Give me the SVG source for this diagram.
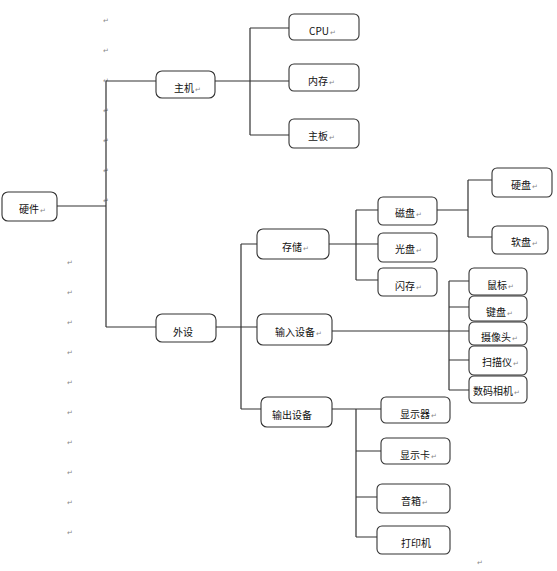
<svg xmlns="http://www.w3.org/2000/svg" width="557" height="571" viewBox="0 0 557 571">
<style>
.box{fill:#fff;stroke:#333;stroke-width:1.1}
.lbl{font-family:"Noto Sans CJK SC","Liberation Sans",sans-serif;font-size:10px;fill:#111}
.pm{font-family:"DejaVu Sans",sans-serif;font-size:7px;fill:#888}
.ln{fill:none;stroke:#333;stroke-width:1.2}
</style>
<rect width="557" height="571" fill="#fff"/>
<g id="marks" class="pm">
<text x="103" y="23">↵</text><text x="103" y="53">↵</text><text x="103" y="83">↵</text><text x="103" y="113">↵</text><text x="103" y="143">↵</text><text x="103" y="173">↵</text><text x="103" y="203">↵</text>
<text x="67" y="265">↵</text><text x="67" y="295">↵</text><text x="67" y="325">↵</text><text x="67" y="355">↵</text><text x="67" y="385">↵</text><text x="67" y="415">↵</text><text x="67" y="445">↵</text><text x="67" y="475">↵</text><text x="67" y="505">↵</text><text x="67" y="535">↵</text>
<text x="477" y="565">↵</text>
</g>
<g id="connectors" class="ln">
<path d="M57,206H106M106,81V327M106,81H156M106,327H156"/>
<path d="M215,81H289M250,28V135M250,28H289M250,135H289"/>
<path d="M216,327H257M241,244V409M241,244H257M241,409H261"/>
<path d="M329,244H378M356,210V280M356,210H378M356,280H378"/>
<path d="M437,210H468M468,180V237M468,180H492M468,237H492"/>
<path d="M332,331H469M449,281V390M449,281H469M449,307H469M449,360H469M449,390H469"/>
<path d="M332,409H381M356,409V537M356,451H381M356,497H377M356,537H377"/>
</g>
<g id="n-hardware"><rect class="box" x="2" y="192" width="55" height="29" rx="6"/><text class="lbl" x="19" y="213">硬件<tspan class="pm" dx="1">↵</tspan></text></g>
<g id="n-host"><rect class="box" x="156" y="71" width="59" height="27" rx="6"/><text class="lbl" x="174" y="92">主机<tspan class="pm" dx="1">↵</tspan></text></g>
<g id="n-cpu"><rect class="box" x="289" y="14" width="70" height="26" rx="5"/><text class="lbl" x="309" y="35" font-family="Liberation Sans">CPU<tspan class="pm" dx="1">↵</tspan></text></g>
<g id="n-mem"><rect class="box" x="289" y="64" width="70" height="27" rx="5"/><text class="lbl" x="308" y="85">内存<tspan class="pm" dx="1">↵</tspan></text></g>
<g id="n-board"><rect class="box" x="289" y="119" width="70" height="29" rx="5"/><text class="lbl" x="308" y="140">主板<tspan class="pm" dx="1">↵</tspan></text></g>
<g id="n-periph"><rect class="box" x="156" y="314" width="60" height="28" rx="6"/><text class="lbl" x="173" y="336">外设</text></g>
<g id="n-storage"><rect class="box" x="257" y="229" width="72" height="30" rx="6"/><text class="lbl" x="282" y="251">存储<tspan class="pm" dx="1">↵</tspan></text></g>
<g id="n-disk"><rect class="box" x="378" y="197" width="59" height="28" rx="5"/><text class="lbl" x="395" y="217">磁盘<tspan class="pm" dx="1">↵</tspan></text></g>
<g id="n-cd"><rect class="box" x="378" y="233" width="59" height="29" rx="5"/><text class="lbl" x="395" y="253">光盘<tspan class="pm" dx="1">↵</tspan></text></g>
<g id="n-flash"><rect class="box" x="378" y="268" width="59" height="28" rx="5"/><text class="lbl" x="395" y="290">闪存<tspan class="pm" dx="1">↵</tspan></text></g>
<g id="n-hdd"><rect class="box" x="492" y="168" width="60" height="29" rx="5"/><text class="lbl" x="511" y="189">硬盘<tspan class="pm" dx="1">↵</tspan></text></g>
<g id="n-fdd"><rect class="box" x="492" y="226" width="56" height="28" rx="5"/><text class="lbl" x="511" y="246">软盘<tspan class="pm" dx="1">↵</tspan></text></g>
<g id="n-input"><rect class="box" x="257" y="314" width="75" height="31" rx="6"/><text class="lbl" x="275" y="336">输入设备<tspan class="pm" dx="1">↵</tspan></text></g>
<g id="n-output"><rect class="box" x="261" y="397" width="71" height="30" rx="6"/><text class="lbl" x="272" y="419">输出设备</text></g>
<g id="n-mouse"><rect class="box" x="469" y="268" width="58" height="27" rx="5"/><text class="lbl" x="487" y="289">鼠标<tspan class="pm" dx="1">↵</tspan></text></g>
<g id="n-kbd"><rect class="box" x="469" y="296" width="58" height="25" rx="5"/><text class="lbl" x="486" y="316">键盘<tspan class="pm" dx="1">↵</tspan></text></g>
<g id="n-cam"><rect class="box" x="469" y="322" width="58" height="23" rx="5"/><text class="lbl" x="481" y="341">摄像头<tspan class="pm" dx="1">↵</tspan></text></g>
<g id="n-scan"><rect class="box" x="469" y="346" width="58" height="29" rx="5"/><text class="lbl" x="482" y="366">扫描仪<tspan class="pm" dx="1">↵</tspan></text></g>
<g id="n-dc"><rect class="box" x="469" y="376" width="58" height="27" rx="5"/><text class="lbl" x="473" y="395">数码相机<tspan class="pm" dx="1">↵</tspan></text></g>
<g id="n-monitor"><rect class="box" x="381" y="397" width="69" height="26" rx="5"/><text class="lbl" x="400" y="418">显示器<tspan class="pm" dx="1">↵</tspan></text></g>
<g id="n-gpu"><rect class="box" x="381" y="438" width="69" height="26" rx="5"/><text class="lbl" x="400" y="459">显示卡<tspan class="pm" dx="1">↵</tspan></text></g>
<g id="n-speaker"><rect class="box" x="377" y="484" width="73" height="29" rx="5"/><text class="lbl" x="401" y="505">音箱<tspan class="pm" dx="1">↵</tspan></text></g>
<g id="n-printer"><rect class="box" x="377" y="526" width="73" height="28" rx="5"/><text class="lbl" x="401" y="547">打印机</text></g>
</svg>
